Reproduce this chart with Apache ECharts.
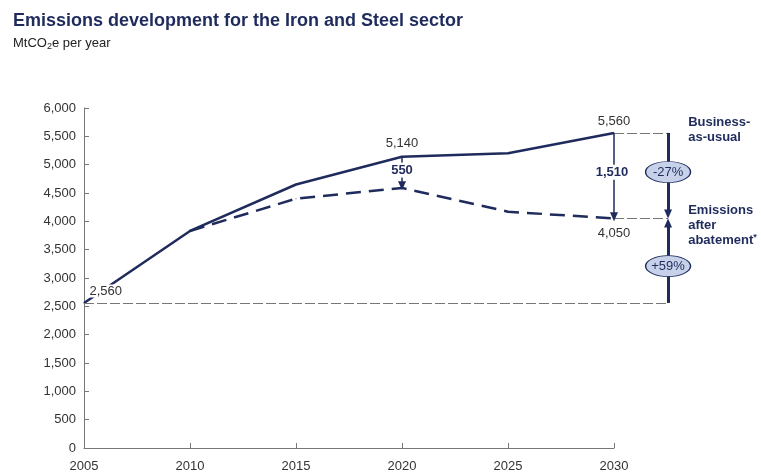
<!DOCTYPE html>
<html>
<head>
<meta charset="utf-8">
<script src="https://cdn.jsdelivr.net/npm/echarts@6/dist/echarts.min.js"></script>
<style>
  html, body { margin: 0; padding: 0; background: #fff; }
  #chart { width: 761px; height: 474px; }
</style>
</head>
<body>
<div id="chart"></div>
<script>
  // values
  const years = [2005, 2010, 2015, 2020, 2025, 2030];
  const businessAsUsual = [2560, 3830, 4650, 5140, 5200, 5560];
  const afterAbatement = [null, 3830, 4400, 4590, 4170, 4050];
  const yTicks = [0, 500, 1000, 1500, 2000, 2500, 3000, 3500, 4000, 4500, 5000, 5500, 6000];
  const gapLabels = ['550', '1,510'];
  const changeLabels = ['-27%', '+59%'];

  const navy = '#1f2b5c';
  const textGrey = '#333';
  const font = 'Liberation Sans, Arial, sans-serif';
  const fmt = v => v.toLocaleString('en-US');

  // annotations right of 2030 live on a second, wider hidden grid with the same scale
  const annoMax = 2035;
  const bracketYear = 2032.55;
  const sideTextYear = 2033.5;

  const last = years.length - 1;
  const i2020 = years.indexOf(2020);
  const bauEnd = businessAsUsual[last];
  const abEnd = afterAbatement[last];
  const base = businessAsUsual[0];

  function labelled(vals, labels) {
    return years.map((y, i) => {
      const item = { value: [y, vals[i]] };
      if (labels[i]) item.label = labels[i];
      return item;
    });
  }

  const bauLabels = {};
  bauLabels[0] = { show: true, formatter: fmt(base), position: 'right', distance: 4, offset: [0, -12],
    backgroundColor: '#fff', padding: [0, 1] };
  bauLabels[i2020] = { show: true, formatter: fmt(businessAsUsual[i2020]), position: 'top', distance: 6 };
  bauLabels[last] = { show: true, formatter: fmt(bauEnd), position: 'top', distance: 5 };

  const abLabels = {};
  abLabels[last] = { show: true, formatter: fmt(abEnd), position: 'bottom', distance: 8 };

  const thinArrow = { color: navy, width: 1.5, type: 'solid' };
  const thickArrow = { color: navy, width: 3, type: 'solid' };
  const ellipseStyle = { color: '#c7d2ea', borderColor: navy, borderWidth: 1 };

  const option = {
    animation: false,
    backgroundColor: '#fff',
    textStyle: { fontFamily: font },
    title: {
      text: 'Emissions development for the Iron and Steel sector',
      subtext: 'MtCO{sub|2}e per year',
      left: 8,
      top: 7,
      itemGap: 5,
      textStyle: { fontSize: 18, fontWeight: 'bold', color: navy, fontFamily: font },
      subtextStyle: {
        fontSize: 13, color: '#222', fontFamily: font,
        rich: { sub: { fontSize: 9, verticalAlign: 'bottom', padding: [7, 0, 0, 0], color: '#222' } }
      }
    },
    grid: [
      { left: 84, right: 147, top: 108, bottom: 26 },
      { left: 84, right: 41, top: 108, bottom: 26 }
    ],
    xAxis: [
      {
        type: 'value',
        gridIndex: 0,
        min: years[0],
        max: years[last],
        interval: 5,
        axisLine: { show: true, lineStyle: { color: '#777', width: 1 } },
        axisTick: { show: true, inside: true, length: 5, lineStyle: { color: '#777' } },
        axisLabel: { color: textGrey, fontSize: 13, margin: 12, formatter: v => String(v) },
        splitLine: { show: false }
      },
      { type: 'value', gridIndex: 1, min: years[0], max: annoMax, show: false }
    ],
    yAxis: [
      {
        type: 'value',
        gridIndex: 0,
        min: yTicks[0],
        max: yTicks[yTicks.length - 1],
        interval: yTicks[1] - yTicks[0],
        axisLine: { show: true, lineStyle: { color: '#777', width: 1 } },
        axisTick: { show: true, inside: true, length: 5, lineStyle: { color: '#777' } },
        axisLabel: { color: textGrey, fontSize: 13, margin: 8, formatter: fmt },
        splitLine: { show: false }
      },
      { type: 'value', gridIndex: 1, min: yTicks[0], max: yTicks[yTicks.length - 1], show: false }
    ],
    series: [
      {
        // grey dashed reference lines
        name: 'refs',
        type: 'line',
        xAxisIndex: 1,
        yAxisIndex: 1,
        data: [],
        silent: true,
        z: 1,
        markLine: {
          silent: true,
          symbol: 'none',
          label: { show: false },
          lineStyle: { color: '#777', width: 1, type: [10, 3] },
          data: [
            [{ coord: [years[0], base] }, { coord: [bracketYear, base] }],
            [{ coord: [years[last], bauEnd] }, { coord: [bracketYear, bauEnd] }],
            [{ coord: [years[last], abEnd] }, { coord: [bracketYear, abEnd] }]
          ]
        }
      },
      {
        name: 'Business-as-usual',
        type: 'line',
        symbol: 'circle',
        symbolSize: 1,
        data: labelled(businessAsUsual, bauLabels),
        lineStyle: { color: navy, width: 2.5 },
        itemStyle: { color: navy },
        label: { color: textGrey, fontSize: 13 },
        z: 3
      },
      {
        name: 'Emissions after abatement',
        type: 'line',
        symbol: 'circle',
        symbolSize: 1,
        data: labelled(afterAbatement, abLabels),
        lineStyle: { color: navy, width: 2.5, type: [15, 8] },
        itemStyle: { color: navy },
        label: { color: textGrey, fontSize: 13 },
        z: 3
      },
      {
        // arrows
        name: 'arrows',
        type: 'line',
        xAxisIndex: 1,
        yAxisIndex: 1,
        data: [],
        silent: true,
        z: 4,
        markLine: {
          silent: true,
          label: { show: false },
          symbol: ['none', 'triangle'],
          symbolSize: [8, 9],
          data: [
            [{ coord: [2020, businessAsUsual[i2020]], lineStyle: thinArrow, symbolSize: [8, 8] },
             { coord: [2020, afterAbatement[i2020] + 40] }],
            [{ coord: [years[last], bauEnd], lineStyle: thinArrow, symbolSize: [8, 9] },
             { coord: [years[last], abEnd + 30] }],
            [{ coord: [bracketYear, bauEnd], lineStyle: thickArrow, symbolSize: [11, 10] },
             { coord: [bracketYear, abEnd + 80] }],
            [{ coord: [bracketYear, base], lineStyle: thickArrow, symbolSize: [11, 10] },
             { coord: [bracketYear, abEnd - 80] }]
          ]
        }
      },
      {
        // bold gap numbers, percentage ellipses, side texts
        name: 'notes',
        type: 'line',
        xAxisIndex: 1,
        yAxisIndex: 1,
        data: [],
        silent: true,
        z: 6,
        markPoint: {
          silent: true,
          data: [
            {
              coord: [2020, (businessAsUsual[i2020] + afterAbatement[i2020]) / 2 + 40],
              symbolSize: 0,
              label: { show: true, position: 'inside', formatter: gapLabels[0], fontWeight: 'bold',
                fontSize: 13, color: navy, backgroundColor: '#fff', padding: [1, 1] }
            },
            {
              coord: [years[last], (bauEnd + abEnd) / 2 + 60],
              symbolSize: 0,
              label: { show: true, position: 'inside', formatter: gapLabels[1], fontWeight: 'bold',
                fontSize: 13, color: navy, backgroundColor: '#fff', padding: [1, 1], offset: [-2, 0] }
            },
            {
              coord: [bracketYear, 4870],
              symbol: 'circle',
              symbolSize: [45, 21],
              itemStyle: ellipseStyle,
              label: { show: true, position: 'inside', formatter: changeLabels[0], fontSize: 13, color: navy }
            },
            {
              coord: [bracketYear, 3210],
              symbol: 'circle',
              symbolSize: [45, 21],
              itemStyle: ellipseStyle,
              label: { show: true, position: 'inside', formatter: changeLabels[1], fontSize: 13, color: navy }
            },
            {
              coord: [sideTextYear, bauEnd + 60],
              symbolSize: 0,
              label: { show: true, position: 'right', distance: 0, align: 'left',
                formatter: 'Business-\nas-usual', fontWeight: 'bold', fontSize: 13, lineHeight: 15, color: navy }
            },
            {
              coord: [sideTextYear, abEnd - 115],
              symbolSize: 0,
              label: { show: true, position: 'right', distance: 0, align: 'left',
                formatter: 'Emissions\nafter\nabatement{star|*}', fontWeight: 'bold', fontSize: 13, lineHeight: 15, color: navy,
                rich: { star: { fontSize: 9, verticalAlign: 'top', color: navy, padding: [0, 0, 6, 0] } } }
            }
          ]
        }
      }
    ]
  };

  const chart = echarts.init(document.getElementById('chart'));
  chart.setOption(option);
</script>
</body>
</html>
